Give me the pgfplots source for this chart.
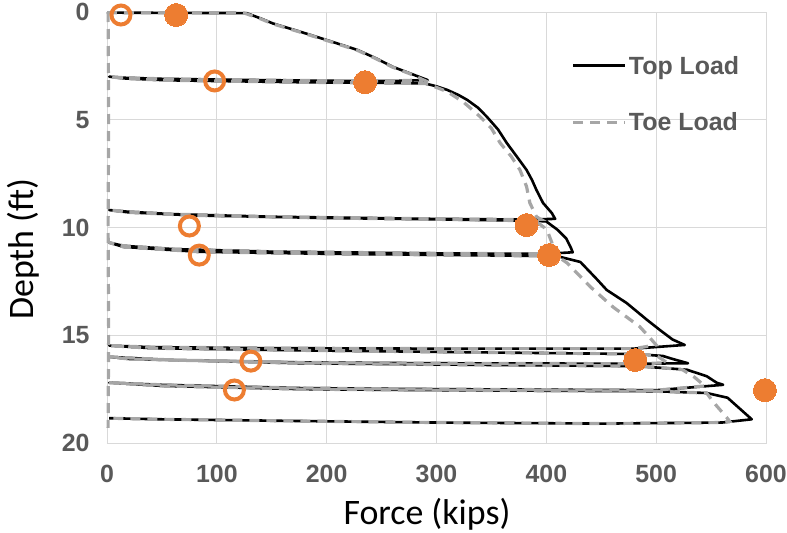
\documentclass[border=0pt]{standalone}
\usepackage{pgfplots}
\pgfplotsset{compat=1.18}
\usepackage{fontspec}
\setmainfont{Carlito}
\newfontfamily\tickfont{Liberation Sans}
\definecolor{gridgray}{HTML}{D9D9D9}
\definecolor{labelgray}{HTML}{595959}
\definecolor{toegray}{HTML}{A6A6A6}
\definecolor{markorange}{HTML}{ED7D31}

\begin{document}
\begin{tikzpicture}
\begin{axis}[
  scale only axis, width=659bp, height=431bp,
  xmin=0, xmax=600, ymin=0, ymax=20, y dir=reverse,
  xtick={0,100,...,600}, ytick={0,5,...,20},
  grid=major, major grid style={draw=gridgray, line width=0.9bp},
  axis line style={draw=gridgray, line width=0.9bp},
  major tick length=0pt,
  /pgf/number format/assume math mode=true,
  tick label style={font=\tickfont\bfseries\fontsize{25}{30}\selectfont, text=labelgray},
  xticklabel shift=19bp, yticklabel shift=14bp,
  xlabel={Force (kips)}, ylabel={Depth (ft)},
  label style={font=\fontsize{36}{42}\selectfont},
  xlabel style={at={(axis description cs:0.4856,-0.1647)}, anchor=center},
  ylabel style={at={(axis description cs:-0.1275,0.45)}, anchor=center},
  clip=false,
  legend style={draw=none, fill=none, at={(0.705,0.903)}, anchor=north west,
    font=\tickfont\bfseries\fontsize{25}{30}\selectfont, text=labelgray,
    row sep=33bp, inner sep=0pt, cells={anchor=west}},
  legend image code/.code={\draw[#1] (-2bp,0bp) -- (50bp,0bp);},
]

% Top load: loading, plunging and unload/reload cycles
\addplot[black, line width=2.6bp, line join=round] coordinates {
(0,0.03) (60,0.04) (127,0.05) (140,0.3) (151,0.53) (175,0.9) (200,1.3) (228,1.76)
(245,2.15) (260,2.54) (276,2.85) (292,3.16)
(260,3.20) (200,3.19) (120,3.15) (50,3.10) (15,3.05) (2,3.0)
(15,3.08) (55,3.17) (176,3.26) (250,3.29) (290,3.32)
(300,3.45) (310,3.62) (320,3.85) (328,4.08) (338,4.45) (346,4.87) (356,5.45) (364,6.08) (373,6.7)
(382,7.33) (387,7.8) (391,8.26) (397,8.86) (405,9.33) (408,9.6)
(380,9.63) (300,9.6) (150,9.5) (60,9.38) (20,9.27) (2,9.19)
(20,9.3) (80,9.44) (200,9.56) (300,9.62) (390,9.69) (400,9.72)
(410,10.1) (418,10.5) (422,10.9) (424,11.15)
(400,11.22) (300,11.2) (150,11.12) (60,11.0) (15,10.85) (2,10.7)
(15,10.9) (84,11.13) (200,11.22) (300,11.27) (410,11.33)
(431,11.6) (446,12.4) (455,12.9) (473,13.5) (492,14.3) (503.5,14.76) (515,15.2) (526,15.45)
(480,15.62) (300,15.62) (150,15.6) (40,15.55) (2,15.48)
(40,15.6) (176,15.7) (350,15.8) (480,15.87) (506,15.96)
(515,16.1) (529,16.3)
(480,16.32) (300,16.3) (176,16.26) (60,16.15) (20,16.05) (2,16.0)
(20,16.1) (176,16.3) (350,16.38) (480,16.43) (501,16.5)
(528,16.6) (546,16.9) (555,17.2) (561,17.3)
(500,17.55) (300,17.5) (176,17.45) (50,17.3) (2,17.2)
(50,17.35) (176,17.5) (300,17.55) (500,17.6) (546,17.68)
(565,17.9) (576,18.4) (587,18.9)
(560,19.05) (450,19.1) (300,19.05) (176,18.98) (50,18.9) (2,18.85)
};
\addlegendentry{Top Load}

% Toe load
\addplot[toegray, line width=3.2bp, dash pattern=on 10bp off 7bp] coordinates {
(0,0.03) (60,0.04) (125,0.05) (140,0.32) (151,0.55) (175,0.92) (200,1.32) (228,1.78)
(245,2.17) (260,2.56) (276,2.87) (288,3.15)
(260,3.20) (200,3.19) (120,3.15) (50,3.10) (15,3.05) (2,3.0)
(15,3.08) (55,3.17) (176,3.26) (250,3.29) (290,3.32)
(300,3.5) (310,3.7) (325,4.2) (340,4.87) (350,5.4) (358,6.08) (368,6.7)
(376,7.33) (382,8.1) (385,8.86) (391,9.5) (395,9.62)
(380,9.63) (300,9.6) (150,9.5) (60,9.38) (20,9.27) (2,9.19)
(20,9.3) (80,9.44) (200,9.56) (300,9.62) (390,9.69)
(398,10.0) (402,10.3) (405,10.7) (407,11.1)
(400,11.22) (300,11.2) (150,11.12) (60,11.0) (15,10.85) (2,10.7)
(15,10.9) (84,11.13) (200,11.22) (300,11.27) (405,11.32)
(412,11.4) (419,11.65) (440,12.75) (461,13.7) (485,14.6) (494,15.1) (500,15.45)
(480,15.62) (300,15.62) (150,15.6) (40,15.55) (2,15.48)
(40,15.6) (176,15.7) (350,15.8) (480,15.87) (500,15.93)
(505,16.1) (510,16.28)
(480,16.32) (300,16.3) (176,16.26) (60,16.15) (20,16.05) (2,16.0)
(20,16.1) (176,16.3) (350,16.38) (480,16.43) (501,16.48)
(524,16.6) (535,16.95) (543,17.3) (545,17.35)
(500,17.55) (300,17.5) (176,17.45) (50,17.3) (2,17.2)
(50,17.35) (176,17.5) (300,17.55) (500,17.6) (546,17.68)
(552,18.1) (564,18.8) (567,19.0)
(560,19.05) (450,19.1) (300,19.05) (176,18.98) (50,18.9) (2,18.85)
};
\addlegendentry{Toe Load}

% Toe load at rest between cycles
\addplot[toegray, line width=3.2bp, dash pattern=on 10bp off 7bp, forget plot] coordinates {
(1,0) (1.5,5) (1,10) (1.5,15) (1,19.3)
};

% Measured capacities
\addplot[markorange, only marks, mark=*, mark size=11.5bp, mark options={draw=markorange, fill=markorange, line width=0pt}, forget plot] coordinates {
(63,0.14) (235,3.26) (382,9.89) (402.5,11.28) (481,16.15) (599,17.55)
};
\addplot[markorange, only marks, mark=o, mark size=9.5bp, mark options={draw=markorange, line width=4bp}, forget plot] coordinates {
(12.7,0.14) (98,3.2) (75,9.93) (84,11.28) (131,16.2) (116,17.54)
};
\end{axis}
\pgfresetboundingbox
\useasboundingbox (-107bp,-90bp) rectangle (680bp,443bp);
\end{tikzpicture}
\end{document}
